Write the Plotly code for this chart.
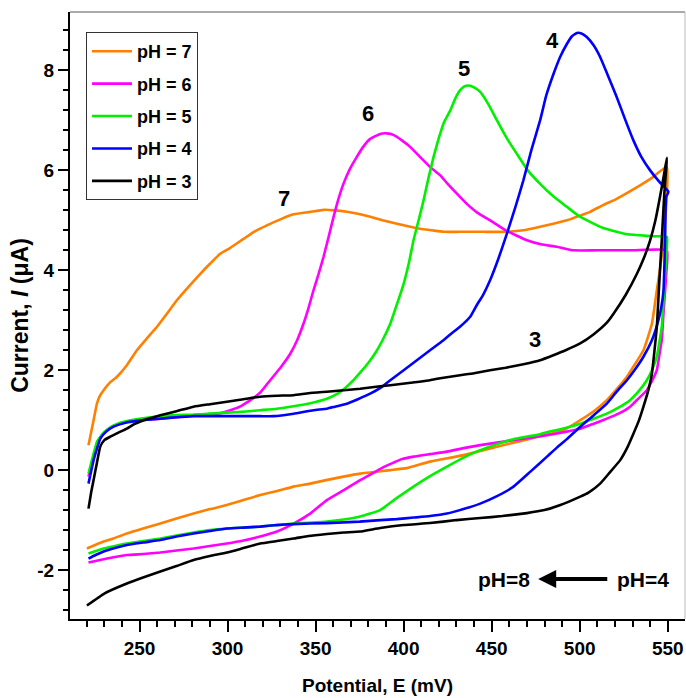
import plotly.graph_objects as go

# Cyclic voltammograms at different pH: each curve is the forward sweep
# (220 -> 550 mV) followed by the reverse sweep back to 220 mV.
E_ph7 = [221, 223.9, 225.8, 227.7, 229.6, 233.4, 237.2, 242.8, 248.5, 254, 259.9, 265.5, 271.2, 277.8, 284.5, 290,
         295.8, 301.6, 309.1, 315, 322.3, 330, 337.5, 346.9, 354.5, 361, 367.8, 374, 381, 388, 396.2, 402.5, 409.4,
         416, 422.6, 432, 445, 458.6, 468, 477.5, 485, 492.7, 499, 505.9, 513, 521, 527, 534.3, 541, 549.5,
         547.6, 545.5, 543.8, 541, 536.2, 531, 526.8, 521, 515.4, 508, 500.3, 490.8, 471.9, 453, 434, 415, 401.8,
         392.4, 375.3, 365.8, 356, 346.9, 337.5, 328, 318.5, 309, 299.6, 290, 280.7, 271, 261.8, 252, 242.8, 235,
         229.6, 220.1]
I_ph7 = [0.5, 1.0, 1.33, 1.5, 1.6, 1.76, 1.87, 2.1, 2.4, 2.63, 2.87, 3.13, 3.4, 3.67, 3.93, 4.13,
         4.33, 4.45, 4.63, 4.77, 4.9, 5.02, 5.12, 5.17, 5.21, 5.2, 5.17, 5.13, 5.07, 5.0, 4.93, 4.88, 4.83,
         4.8, 4.77, 4.77, 4.77, 4.77, 4.8, 4.87, 4.93, 5.0, 5.08, 5.17, 5.3, 5.43, 5.55, 5.7, 5.85, 6.07,
         4.6, 4.0, 3.6, 2.93, 2.4, 2.1, 1.87, 1.62, 1.4, 1.18, 1.0, 0.8, 0.63, 0.47, 0.3, 0.17, 0.04,
         0.0, -0.07, -0.13, -0.2, -0.27, -0.33, -0.42, -0.5, -0.6, -0.7, -0.78, -0.87, -0.97, -1.07, -1.17, -1.27, -1.37,
         -1.43, -1.57]

E_ph6 = [221, 223.9, 226, 229.6, 235, 242.8, 252, 261.8, 271, 280.7, 290, 295.8, 301.6, 307, 312.9, 318.5, 324.2,
         330, 335.6, 339.5, 343.1, 346, 348.8, 351.7, 354.5, 357.4, 360.2, 363, 365.8, 369.5, 373.4, 377, 381,
         386.7, 390.5, 394.2, 399, 403.7, 409, 415, 420.8, 424.5, 432, 435.9, 442, 449.1, 458, 470, 478, 487,
         496.5, 510, 530, 549.5,
         549.3, 548.5, 547.5, 546.6, 545, 543.8, 541, 538.1, 533, 528.6, 522, 515.4, 508, 500.3, 491, 481.4, 472,
         462.4, 453, 443.5, 434, 424.6, 415, 405.6, 399, 394.3, 388, 383, 375.3, 366, 356.4, 346.9, 337.5, 328,
         318.5, 309, 299.6, 290, 280.7, 271, 261.8, 252, 242.8, 231.5, 221]
I_ph6 = [-0.13, 0.27, 0.55, 0.73, 0.88, 0.97, 1.01, 1.03, 1.06, 1.1, 1.12, 1.14, 1.2, 1.27, 1.4, 1.55, 1.8,
         2.05, 2.33, 2.6, 2.93, 3.25, 3.6, 3.93, 4.27, 4.67, 5.07, 5.43, 5.73, 6.03, 6.27, 6.47, 6.63,
         6.73, 6.74, 6.71, 6.6, 6.47, 6.28, 6.07, 5.9, 5.75, 5.47, 5.33, 5.15, 5.0, 4.8, 4.6, 4.52, 4.47,
         4.4, 4.4, 4.4, 4.4,
         4.0, 3.6, 3.1, 2.6, 2.25, 2.0, 1.78, 1.6, 1.42, 1.27, 1.13, 1.03, 0.93, 0.83, 0.76, 0.7, 0.65,
         0.6, 0.55, 0.5, 0.44, 0.37, 0.32, 0.27, 0.22, 0.15, 0.05, -0.05, -0.2, -0.4, -0.6, -0.87, -1.07, -1.23,
         -1.33, -1.41, -1.47, -1.52, -1.57, -1.61, -1.65, -1.68, -1.7, -1.77, -1.85]

E_ph5 = [221, 223.9, 226, 229.6, 234, 239, 245, 252, 261.8, 271, 280.7, 290, 299.6, 309, 318.5, 328, 337.5, 347,
         356.4, 362, 367, 371.5, 376, 380, 384, 388, 392.4, 396, 400, 403, 405.6, 408.5, 411.3, 414, 417, 420,
         423, 426.5, 429.5, 432, 434.5, 436.8, 440, 443.5, 448, 453, 458.5, 464.3, 470.5, 477.5, 485, 492.7, 499,
         505.9, 513, 521, 527, 534.3, 542, 549.5,
         549.2, 548.5, 547.6, 546.6, 545.2, 543.8, 541, 538.1, 533.5, 528.6, 522, 515.4, 508, 500.3, 489, 481.4,
         477.5, 470, 462.4, 453, 443.5, 434, 424.6, 415, 405.6, 396, 386.7, 375.3, 366, 356.4, 337.5, 318.5, 299.6,
         290, 280.7, 271, 261.8, 252, 242.8, 236, 229.6, 221]
I_ph5 = [-0.07, 0.33, 0.58, 0.75, 0.87, 0.95, 1.0, 1.04, 1.08, 1.1, 1.11, 1.13, 1.15, 1.17, 1.2, 1.23, 1.28, 1.34,
         1.43, 1.52, 1.65, 1.8, 1.98, 2.15, 2.35, 2.6, 2.93, 3.3, 3.73, 4.15, 4.6, 5.0, 5.4, 5.83, 6.27, 6.65,
         6.97, 7.2, 7.45, 7.6, 7.68, 7.7, 7.66, 7.57, 7.33, 7.0, 6.65, 6.33, 6.0, 5.73, 5.48, 5.27, 5.1,
         4.97, 4.85, 4.77, 4.72, 4.7, 4.68, 4.67,
         4.3, 3.93, 3.4, 2.87, 2.55, 2.27, 2.0, 1.8, 1.58, 1.4, 1.25, 1.13, 1.03, 0.93, 0.82, 0.76,
         0.72, 0.67, 0.62, 0.52, 0.4, 0.25, 0.07, -0.12, -0.33, -0.56, -0.8, -0.93, -0.99, -1.03, -1.07, -1.13, -1.17,
         -1.2, -1.25, -1.31, -1.37, -1.42, -1.47, -1.52, -1.57, -1.67]

E_ph4 = [221, 223.9, 226, 227.7, 231, 235.2, 242, 252.3, 261.8, 271, 280.7, 299.6, 318.5, 326.1, 337.5, 348.8,
         356.4, 361, 367.8, 374, 381, 387, 392.4, 400, 407.5, 415, 422.6, 427, 432, 437.8, 441.5, 445, 449.1, 454,
         458.6, 463.5, 468, 472.5, 477.5, 481, 485.1, 489, 492.7, 495.5, 498.4, 501, 504, 508, 511.6, 516, 521, 526,
         530.5, 535, 540, 545, 550.4,
         549.1, 548.5, 547.6, 546.3, 544.7, 541, 536.2, 531.5, 526.8, 521, 515.4, 508, 500.3, 492.7, 487,
         481.4, 472, 462.4, 453, 443.5, 434, 424.6, 415, 405.6, 396, 386.7, 375, 356.4, 337.5, 328, 318.5, 309,
         299.6, 290, 280.7, 271, 261.8, 252, 242.8, 236, 229.6, 225, 221]
I_ph4 = [-0.27, 0.2, 0.45, 0.63, 0.77, 0.87, 0.95, 1.0, 1.03, 1.06, 1.08, 1.08, 1.08, 1.08, 1.13, 1.2,
         1.23, 1.27, 1.33, 1.42, 1.53, 1.65, 1.8, 2.0, 2.2, 2.4, 2.6, 2.73, 2.87, 3.07, 3.3, 3.5, 3.8, 4.25,
         4.73, 5.27, 5.8, 6.4, 7.0, 7.5, 7.93, 8.28, 8.53, 8.68, 8.75, 8.74, 8.67, 8.5, 8.27, 7.9, 7.47, 7.0,
         6.6, 6.27, 6.0, 5.78, 5.57,
         5.47, 4.6, 3.6, 3.25, 3.0, 2.6, 2.27, 2.02, 1.8, 1.57, 1.33, 1.1, 0.87, 0.62, 0.45,
         0.27, -0.03, -0.33, -0.52, -0.67, -0.78, -0.87, -0.92, -0.95, -0.98, -1.0, -1.03, -1.06, -1.08, -1.1, -1.13, -1.15,
         -1.17, -1.22, -1.27, -1.33, -1.4, -1.45, -1.5, -1.56, -1.63, -1.7, -1.77]

E_ph3 = [221, 222.5, 223.9, 225.8, 227.7, 230, 233.4, 238, 242.8, 247, 252.3, 257, 261.8, 271, 280.7, 290, 299.6,
         309, 318.5, 328, 337.5, 346, 356.4, 366, 375.3, 386.7, 392.4, 404, 415, 420.8, 432, 440, 449, 458, 468,
         477.5, 485, 492, 500, 508, 515.4, 519.2, 526, 532.5, 536.5, 540, 543, 545.6, 547.8, 549.5,
         548, 546.6, 545.1, 543.8, 541, 538.6, 536.2, 533.5, 530.5, 527, 523, 517, 511.6, 505, 500.3, 489, 480, 470,
         456, 443.5, 430, 415, 400, 386.7, 375.3, 366, 356.4, 346, 337.5, 328, 318.5, 309, 299.6, 290, 280.7, 271,
         261.8, 252, 242.8, 230, 220.1]
I_ph3 = [-0.77, -0.45, -0.2, 0.15, 0.47, 0.6, 0.67, 0.75, 0.83, 0.92, 1.0, 1.05, 1.1, 1.18, 1.27, 1.32, 1.37,
         1.42, 1.47, 1.49, 1.5, 1.54, 1.57, 1.6, 1.63, 1.68, 1.7, 1.75, 1.8, 1.84, 1.9, 1.94, 2.0, 2.05, 2.12,
         2.2, 2.3, 2.4, 2.53, 2.72, 2.95, 3.13, 3.5, 3.93, 4.25, 4.6, 5.0, 5.47, 5.9, 6.25,
         5.5, 4.6, 3.7, 2.87, 1.93, 1.55, 1.27, 0.98, 0.73, 0.45, 0.2, -0.05, -0.27, -0.45, -0.53, -0.7, -0.8, -0.86,
         -0.92, -0.96, -1.0, -1.06, -1.1, -1.16, -1.23, -1.25, -1.28, -1.32, -1.37, -1.42, -1.47, -1.56, -1.65, -1.72,
         -1.8, -1.92, -2.03, -2.15, -2.27, -2.47, -2.71]

legend_names = ["pH = 7", "pH = 6", "pH = 5", "pH = 4", "pH = 3"]
colors = ["#FF8000", "#FF00FF", "#00F000", "#0000FF", "#000000"]
peak_labels = ["7", "6", "5", "4", "3"]
peak_label_E = [331.8, 380.0, 434.0, 484.8, 474.7]
peak_label_I = [5.43, 7.13, 8.03, 8.6, 2.61]
y_tick_vals = [-2, 0, 2, 4, 6, 8]
y_tick_text = ["-2", "0", "2", "4", "6", "8"]

FONT = "Liberation Sans, Arial, sans-serif"

fig = go.Figure()
curves = [(E_ph7, I_ph7), (E_ph6, I_ph6), (E_ph5, I_ph5), (E_ph4, I_ph4), (E_ph3, I_ph3)]
for (E, I), name, col in zip(curves, legend_names, colors):
    fig.add_trace(go.Scatter(x=E, y=I, mode="lines", name=name, legendgroup=name,
                             line=dict(color=col, width=2.6, shape="spline", smoothing=0.4)))

for txt, ex, iy in zip(peak_labels, peak_label_E, peak_label_I):
    fig.add_annotation(x=ex, y=iy, text=txt, showarrow=False,
                       font=dict(family=FONT, size=22, color="black", weight="bold"))

# pH direction arrow
fig.add_annotation(x=476.4, y=-2.18, ax=516.5, ay=-2.18, axref="x", ayref="y", xref="x", yref="y",
                   text="", showarrow=True, arrowhead=2, arrowsize=0.9, arrowwidth=4, arrowcolor="black")
fig.add_annotation(x=456.9, y=-2.18, text="pH=8", showarrow=False,
                   font=dict(family=FONT, size=21, color="black", weight="bold"))
fig.add_annotation(x=535.7, y=-2.18, text="pH=4", showarrow=False,
                   font=dict(family=FONT, size=21, color="black", weight="bold"))

# thin frame on top and right
fig.add_shape(type="line", xref="paper", yref="paper", x0=0, x1=1, y0=1, y1=1,
              line=dict(color="#555555", width=1))
fig.add_shape(type="line", xref="paper", yref="paper", x0=1, x1=1, y0=0, y1=1,
              line=dict(color="#bbbbbb", width=1))

fig.update_layout(
    width=686, height=698,
    margin=dict(l=70, r=1, t=12, b=79),
    paper_bgcolor="white", plot_bgcolor="white",
    font=dict(family=FONT, size=18, color="black", weight="bold"),
    showlegend=True,
    legend=dict(x=0.026, y=0.967, xanchor="left", yanchor="top",
                bgcolor="white", bordercolor="#333333", borderwidth=1,
                font=dict(family=FONT, size=18, color="black", weight="bold"),
                tracegroupgap=6, itemwidth=40),
    xaxis=dict(range=[210.5, 559.8], tickmode="linear", tick0=250, dtick=50,
               showline=True, linecolor="black", linewidth=2,
               ticks="outside", ticklen=11, tickwidth=2, tickcolor="black",
               minor=dict(dtick=10, tick0=250, ticks="outside", ticklen=6, tickwidth=2, tickcolor="black"),
               showgrid=False, zeroline=False,
               tickfont=dict(family=FONT, size=19, weight="bold"),
               title=dict(text="Potential, E (mV)", standoff=21,
                          font=dict(family=FONT, size=19, weight="bold"))),
    yaxis=dict(range=[-2.98, 9.17], tickmode="array", tickvals=y_tick_vals, ticktext=y_tick_text,
               showline=True, linecolor="black", linewidth=2,
               ticks="outside", ticklen=10, tickwidth=2, tickcolor="black",
               minor=dict(dtick=0.4, tick0=0, ticks="outside", ticklen=5, tickwidth=2, tickcolor="black"),
               showgrid=False, zeroline=False,
               tickfont=dict(family=FONT, size=19, weight="bold"),
               title=dict(text="Current, <i>I</i> (μA)", standoff=2,
                          font=dict(family=FONT, size=23, weight="bold"))),
)

fig.write_html("out.html")
